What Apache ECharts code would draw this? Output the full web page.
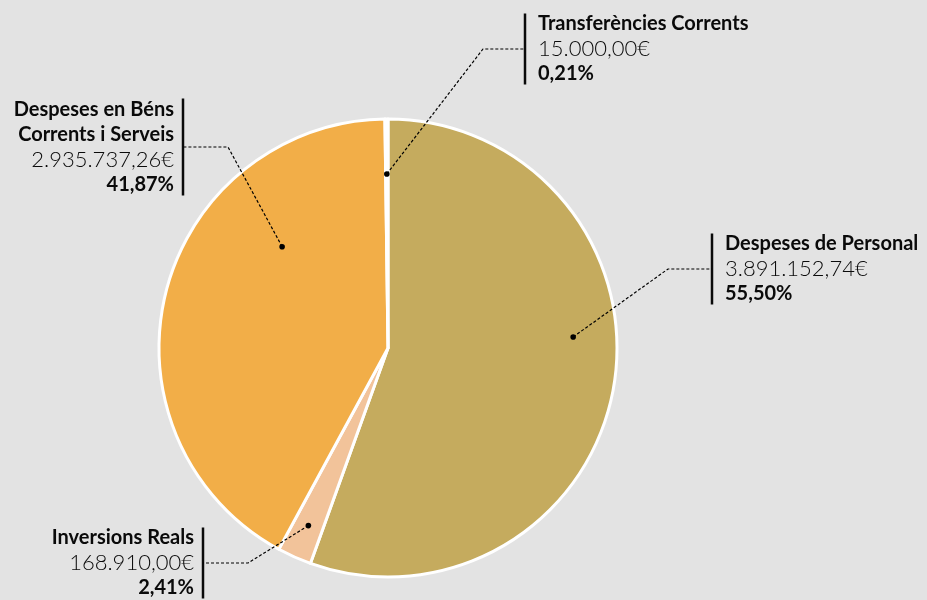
<!DOCTYPE html>
<html>
<head>
<meta charset="utf-8">
<script src="https://cdn.jsdelivr.net/npm/echarts@6/dist/echarts.min.js"></script>
<style>
  html, body { margin: 0; padding: 0; background: #e3e3e3; }
  #pie-chart { width: 927px; height: 600px; }
</style>
</head>
<body>
<div id="pie-chart"></div>
<script>
// 数据
const categories = ['Despeses de Personal', 'Inversions Reals', 'Despeses en Béns\nCorrents i Serveis', 'Transferències Corrents'];
const amounts = [3891152.74, 168910.00, 2935737.26, 15000.00];
const sliceColors = ['#c5ab5e', '#f2c39a', '#f2ae48', '#ffffff'];

// 标签位置（竖线x、中线y、折点x）和圆点
const labelPlace = [
    { side: 'right', bar: 712, mid: 269, kink: 668, nudge: -3.7, r: 0.81 },
    { side: 'left', bar: 203, mid: 563, kink: 248, nudge: 0, r: 0.85 },
    { side: 'left', bar: 183, mid: 147, kink: 228, nudge: 8.3, r: 0.64 },
    { side: 'right', bar: 525, mid: 49, kink: 483, nudge: 0, r: 0.76 }
];

const CX = 388, CY = 348, R = 229;
const FONT = 'Lato, "Open Sans", sans-serif';

const total = amounts.reduce((a, b) => a + b, 0);
const midPct = [];
let acc = 0;
amounts.forEach(v => { midPct.push((acc + v / 2) / total * 100); acc += v; });

// 3.891.152,74€
const fmtMoney = (v) => {
    const parts = v.toFixed(2).split('.');
    return parts[0].replace(/\B(?=(\d{3})+(?!\d))/g, '.') + ',' + parts[1] + '€';
};

const chartDom = document.getElementById('pie-chart');
const myChart = echarts.init(chartDom);

const pieData = categories.map((c, i) => ({ name: c, value: amounts[i], itemStyle: { color: sliceColors[i] } }));

const txt = { color: '#0a0a0a', fontFamily: FONT, lineHeight: 25 };

const option = {
    backgroundColor: '#e3e3e3',
    animation: false,
    polar: { center: [CX, CY], radius: R },
    angleAxis: { type: 'value', min: 0, max: 100, startAngle: 90, clockwise: true, show: false },
    radiusAxis: { type: 'value', min: 0, max: 1, show: false },
    series: [
        {
            name: 'pressupost',
            type: 'pie',
            center: [CX, CY],
            radius: R,
            startAngle: 90,
            clockwise: true,
            avoidLabelOverlap: false,
            data: pieData,
            itemStyle: { borderColor: '#ffffff', borderWidth: 3 },
            label: {
                show: true,
                formatter: function (p) {
                    const s = labelPlace[p.dataIndex].side;
                    const pct = (p.value / total * 100).toFixed(2).replace('.', ',') + '%';
                    return '{t' + s + '|' + p.name + '}\n{v' + s + '|' + fmtMoney(p.value) + '}\n{p' + s + '|' + pct + '}';
                },
                rich: {
                    tright: Object.assign({ fontSize: 20, fontWeight: 700, align: 'left' }, txt),
                    vright: Object.assign({ fontSize: 22, fontWeight: 300, align: 'left', color: '#000' }, txt),
                    pright: Object.assign({ fontSize: 20, fontWeight: 700, align: 'left' }, txt),
                    tleft: Object.assign({ fontSize: 20, fontWeight: 700, align: 'right' }, txt),
                    vleft: Object.assign({ fontSize: 22, fontWeight: 300, align: 'right', color: '#000' }, txt),
                    pleft: Object.assign({ fontSize: 20, fontWeight: 700, align: 'right' }, txt)
                }
            },
            labelLine: { show: false },
            labelLayout: function (params) {
                const L = labelPlace[params.dataIndex];
                const right = L.side === 'right';
                return {
                    x: right ? L.bar + 13 : L.bar - 9,
                    y: L.mid,
                    align: right ? 'left' : 'right',
                    verticalAlign: 'middle'
                };
            },
            emphasis: { disabled: true }
        },
        {
            // 标签旁边的竖线
            name: 'bars',
            type: 'pie',
            center: [CX, CY],
            radius: R,
            startAngle: 90,
            clockwise: true,
            silent: true,
            avoidLabelOverlap: false,
            data: pieData.map(d => ({ name: d.name, value: d.value })),
            itemStyle: { color: 'rgba(0,0,0,0)', borderWidth: 0 },
            label: {
                show: true,
                formatter: function (p) {
                    return p.name.indexOf('\n') >= 0 ? '{bar4| }' : '{bar3| }';
                },
                rich: {
                    bar3: { width: 2.5, height: 71, backgroundColor: '#0a0a0a', fontSize: 1 },
                    bar4: { width: 2.5, height: 97, backgroundColor: '#0a0a0a', fontSize: 1 }
                }
            },
            labelLine: { show: false },
            labelLayout: function (params) {
                const L = labelPlace[params.dataIndex];
                return { x: L.bar, y: L.mid, align: 'center', verticalAlign: 'middle' };
            },
            emphasis: { disabled: true }
        },
        {
            // 引线和端点
            name: 'leaders',
            type: 'custom',
            coordinateSystem: 'polar',
            silent: true,
            z: 10,
            data: midPct.map((m, i) => [labelPlace[i].r, m + labelPlace[i].nudge, i]),
            renderItem: function (params, api) {
                const p = api.coord([api.value(0), api.value(1)]);
                const L = labelPlace[api.value(2)];
                return {
                    type: 'group',
                    children: [
                        {
                            type: 'polyline',
                            shape: { points: [p, [L.kink, L.mid], [L.bar, L.mid]] },
                            style: { stroke: '#000000', lineWidth: 1.2, lineDash: [3, 2], fill: null }
                        },
                        {
                            type: 'circle',
                            shape: { cx: p[0], cy: p[1], r: 2.8 },
                            style: { fill: '#000000' }
                        }
                    ]
                };
            }
        }
    ]
};

myChart.setOption(option);

window.addEventListener('resize', () => {
    myChart.resize();
});
</script>
</body>
</html>
